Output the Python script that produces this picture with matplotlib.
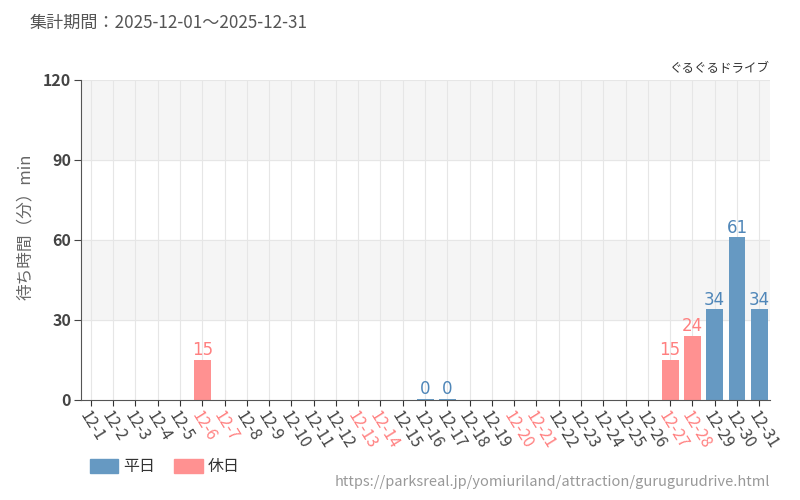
import numpy as np
import matplotlib.pyplot as plt
from matplotlib.patches import Patch

plt.rcParams['font.family'] = ['Noto Sans CJK JP', 'DejaVu Sans']

days = ['12-%d' % d for d in range(1, 32)]
holidays = ['12-6', '12-7', '12-13', '12-14', '12-20', '12-21', '12-27', '12-28']
# 待ち時間（分）, None = データなし
wait = [None, None, None, None, None, 15, None, None, None, None,
        None, None, None, None, None, 0, 0, None, None, None,
        None, None, None, None, None, None, 15, 24, 34, 61, 34]

BLUE = '#6699c2'
RED = '#ff9191'
BLUE_TXT = '#4f86b8'
RED_TXT = '#ff8080'

fig = plt.figure(figsize=(8, 5), dpi=100)
ax = fig.add_axes([0.101, 0.2, 0.862, 0.64])

x = np.arange(len(days))
ax.set_xlim(-0.45, len(days) - 0.5)
ax.set_ylim(0, 120)

# 背景の帯
for lo, hi in [(30, 60), (90, 120)]:
    ax.axhspan(lo, hi, color='#f5f5f5', zorder=0)
for yy in [30, 60, 90, 120]:
    ax.axhline(yy, color='#e6e6e6', lw=0.8, zorder=0.5)
for xx in x:
    ax.axvline(xx, color='#e6e6e6', lw=0.8, zorder=0.5)

for i, (d, v) in enumerate(zip(days, wait)):
    if v is None:
        continue
    hol = d in holidays
    c = RED if hol else BLUE
    h = v if v > 0 else 0.4
    ax.bar(i, h, width=0.76, color=c, zorder=2)
    ax.text(i, h + 0.3, str(v), ha='center', va='bottom', fontsize=12,
            color=RED_TXT if hol else BLUE_TXT, family='DejaVu Sans', zorder=3)

ax.set_xticks(x)
ax.set_xticklabels(days, rotation=-58, ha='left', va='top', rotation_mode='anchor',
                   fontsize=11.5, color='#444444')
for lab in ax.get_xticklabels():
    if lab.get_text() in holidays:
        lab.set_color(RED_TXT)
ax.set_yticks([0, 30, 60, 90, 120])
ax.tick_params(axis='y', labelsize=11.5, colors='#444444', length=5, pad=2)
ax.tick_params(axis='x', length=4, color='#333333', pad=2)
for lab in ax.get_yticklabels():
    lab.set_fontweight('bold')

for s in ['top', 'right']:
    ax.spines[s].set_visible(False)
ax.spines['left'].set_color('#555555')
ax.spines['bottom'].set_color('#555555')

ax.set_ylabel('待ち時間（分）min', fontsize=12, color='#666666')
ax.yaxis.set_label_coords(-0.068, 0.54)

fig.text(0.037, 0.955, '集計期間：2025-12-01～2025-12-31', fontsize=12.3, color='#555555',
         va='center')
fig.text(0.963, 0.863, 'ぐるぐるドライブ', fontsize=9, color='#333333', ha='right', va='center')
fig.text(0.963, 0.036, 'https://parksreal.jp/yomiuriland/attraction/gurugurudrive.html',
         fontsize=10.5, color='#999999', ha='right', va='center')

handles = [Patch(color=BLUE, label='平日'), Patch(color=RED, label='休日')]
fig.legend(handles=handles, loc='center left', bbox_to_anchor=(0.112, 0.066), ncol=2,
           frameon=False, fontsize=11.5, handlelength=1.8, handleheight=1.0,
           columnspacing=1.2, handletextpad=0.3, labelcolor='#333333',
           borderpad=0, borderaxespad=0)

fig.savefig('out.png')
